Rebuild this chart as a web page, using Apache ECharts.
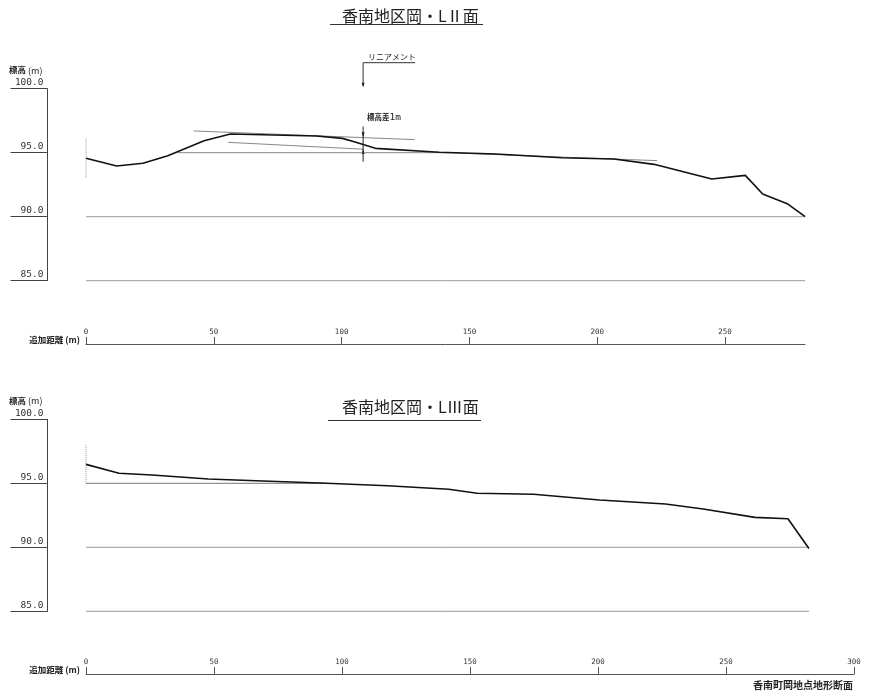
<!DOCTYPE html>
<html><head><meta charset="utf-8">
<script src="https://cdn.jsdelivr.net/npm/echarts@6/dist/echarts.min.js"></script>
<style>html,body{margin:0;padding:0;background:#fff}#c{width:870px;height:696px}</style>
</head><body><div id="c"></div>
<script>
// ---- texts ----
const titleL2 = '香南地区岡・LⅡ面';
const titleL3 = '香南地区岡・LⅢ面';
const caption = '香南町岡地点地形断面';
const yName = '{b|標高} (m)';
const xName = '追加距離 (m)';
const lineamentText = 'リニアメント';
const stepText = '{a|標高差}{b|1m}';

// ---- ticks ----
const yTicks = [85, 90, 95, 100];
const xTicksL2 = [0, 50, 100, 150, 200, 250];
const xTicksL3 = [0, 50, 100, 150, 200, 250, 300];
const xMaxL2 = 281.25;
const xMaxL3 = 300;

// ---- L II profile (distance m, elevation m) ----
const profileL2 = [[0,94.56],[12.0,93.96],[22.3,94.17],[32.0,94.77],[46.2,95.94],[56.5,96.46],[90.2,96.30],[100.3,96.12],[104.9,95.86],[113.2,95.34],[138.2,95.03],[160.3,94.90],[186.2,94.61],[206.5,94.51],[222.2,94.09],[244.8,92.95],[257.9,93.23],[264.7,91.77],[274.3,91.02],[281.3,90.0]];
const upperSurfaceL2 = [[42.1,96.70],[128.6,96.02]];
const lowerSurfaceL2 = [[55.6,95.81],[108.6,95.27]];
const terraceL2 = [[36,95.0],[142,95.0],[193,94.6],[223.4,94.38]];
const level90L2 = [[0,90],[281.25,90]];
const level85L2 = [[0,85],[281.25,85]];
const datumL2 = [[0,96.13],[0,93.0]];
const lineamentX = 108.4;
const stepMarker = [[108.4,97.05],[108.4,94.3]];
const stepArrows = [96.2, 95.28];

// ---- L III profile ----
const profileL3 = [[0,96.48],[12.9,95.78],[25.8,95.65],[47.8,95.34],[71.8,95.16],[93.9,95.0],[117.8,94.81],[141.7,94.53],[152.8,94.22],[174.8,94.14],[200.6,93.70],[226.4,93.38],[241.1,92.99],[261.3,92.34],[274.2,92.23],[282.4,89.9]];
const level95L3 = [[0,95],[94,95]];
const level90L3 = [[0,90],[282.4,90]];
const level85L3 = [[0,85],[282.4,85]];
const datumL3 = [[0,98.0],[0,95.0]];

const chart = echarts.init(document.getElementById('c'), null, {renderer:'canvas'});
const axisColor = '#444';
const monoFont = 'DejaVu Sans Mono';
const cjkFont = 'Noto Sans CJK JP';

function yAxisCfg(gi) {
  return {
    gridIndex: gi, type: 'value', min: 85, max: 100, interval: 5,
    position: 'left', offset: 38.5,
    axisLine: {show: true, onZero: false, lineStyle: {color: axisColor, width: 1}},
    axisTick: {show: true, length: 37, lineStyle: {color: axisColor, width: 1}},
    axisLabel: {margin: 4, verticalAlign: 'bottom', formatter: v => v.toFixed(1),
      fontFamily: monoFont, fontSize: 9.5, color: '#333', lineHeight: 12},
    splitLine: {show: false},
    name: yName, nameLocation: 'end', nameGap: 14,
    nameTextStyle: {align: 'right', padding: [0, 5, 0, 0], fontSize: 9, color: '#222',
      fontFamily: cjkFont, rich: {b: {fontWeight: 'bold', fontSize: 8.5, fontFamily: cjkFont, color: '#222'}}}
  };
}
function xAxisCfg(gi, max, ticks) {
  return {
    gridIndex: gi, type: 'value', min: 0, max: max, position: 'top', interval: 50,
    axisLine: {show: true, onZero: false, lineStyle: {color: '#555', width: 1}},
    axisTick: {show: true, customValues: ticks, length: 7, lineStyle: {color: '#555', width: 1}},
    axisLabel: {customValues: ticks, margin: 8, fontFamily: monoFont, fontSize: 7.5, color: '#333',
      formatter: v => (v % 50 === 0 ? String(v) : '')},
    splitLine: {show: false},
    name: xName, nameLocation: 'start', nameGap: 6,
    nameTextStyle: {fontFamily: cjkFont, fontSize: 8.5, color: '#222', verticalAlign: 'bottom', fontWeight: 'bold'}
  };
}
function lineSeries(xi, yi, data, color, width, type) {
  return {type: 'line', xAxisIndex: xi, yAxisIndex: yi, data: data, symbol: 'none', showSymbol: false,
    silent: true, clip: false, animation: false,
    lineStyle: {color: color, width: width, type: type || 'solid'}};
}

const option = {
  backgroundColor: '#fff',
  animation: false,
  title: [
    {text: titleL2, left: 337, top: 3, textStyle: {fontFamily: cjkFont, fontSize: 16, fontWeight: 'normal', color: '#222'}},
    {text: titleL3, left: 337, top: 394, textStyle: {fontFamily: cjkFont, fontSize: 16, fontWeight: 'normal', color: '#222'}},
    {text: caption, right: 12, top: 675, textStyle: {fontFamily: cjkFont, fontSize: 10, fontWeight: 'bold', color: '#222'}}
  ],
  grid: [
    {left: 86, top: 88.7, width: 719, height: 192},
    {left: 86, top: 344, width: 719, height: 1},
    {left: 86, top: 419.3, width: 768, height: 192},
    {left: 86, top: 674, width: 768, height: 1}
  ],
  xAxis: [
    {gridIndex: 0, type: 'value', min: 0, max: xMaxL2, show: false},
    xAxisCfg(1, xMaxL2, xTicksL2),
    {gridIndex: 2, type: 'value', min: 0, max: xMaxL3, show: false},
    xAxisCfg(3, xMaxL3, xTicksL3)
  ],
  yAxis: [
    yAxisCfg(0),
    {gridIndex: 1, type: 'value', min: 0, max: 1, show: false},
    yAxisCfg(2),
    {gridIndex: 3, type: 'value', min: 0, max: 1, show: false}
  ],
  series: [
    lineSeries(0, 0, level90L2, '#999', 1),
    lineSeries(0, 0, level85L2, '#999', 1),
    lineSeries(0, 0, terraceL2, '#888', 1),
    lineSeries(0, 0, upperSurfaceL2, '#888', 1),
    lineSeries(0, 0, lowerSurfaceL2, '#888', 1),
    lineSeries(0, 0, datumL2, '#999', 1, 'dotted'),
    lineSeries(0, 0, stepMarker, '#222', 1),
    lineSeries(0, 0, profileL2, '#111', 1.6),
    lineSeries(2, 2, level95L3, '#777', 1),
    lineSeries(2, 2, level90L3, '#999', 1),
    lineSeries(2, 2, level85L3, '#999', 1),
    lineSeries(2, 2, datumL3, '#999', 1, 'dotted'),
    lineSeries(2, 2, profileL3, '#111', 1.6)
  ]
};
chart.setOption(option);

// annotations positioned from data coordinates
const pTop = chart.convertToPixel({gridIndex: 0}, [lineamentX, 100]);
const pStepTop = chart.convertToPixel({gridIndex: 0}, stepMarker[0]);
const pA1 = chart.convertToPixel({gridIndex: 0}, [lineamentX, stepArrows[0]]);
const pA2 = chart.convertToPixel({gridIndex: 0}, [lineamentX, stepArrows[1]]);
const lx = pTop[0], ly = pTop[1];
chart.setOption({
  graphic: [
    {type: 'line', shape: {x1: 330, y1: 24.5, x2: 483, y2: 24.5}, style: {stroke: '#333', lineWidth: 1}, silent: true},
    {type: 'line', shape: {x1: 328, y1: 420.5, x2: 481, y2: 420.5}, style: {stroke: '#333', lineWidth: 1}, silent: true},
    {type: 'line', shape: {x1: lx, y1: ly - 26, x2: lx + 52, y2: ly - 26}, style: {stroke: '#333', lineWidth: 1}, silent: true},
    {type: 'line', shape: {x1: lx, y1: ly - 26, x2: lx, y2: ly - 3}, style: {stroke: '#333', lineWidth: 1}, silent: true},
    {type: 'polygon', shape: {points: [[lx - 1.5, ly - 6], [lx + 1.5, ly - 6], [lx, ly - 1.5]]}, style: {fill: '#222'}, silent: true},
    {type: 'text', x: lx + 5, y: ly - 28, style: {text: lineamentText, font: '8px "Noto Sans CJK JP"', fill: '#222', verticalAlign: 'bottom'}, silent: true},
    {type: 'polygon', shape: {points: [[pA1[0] - 1.5, pA1[1] - 5], [pA1[0] + 1.5, pA1[1] - 5], [pA1[0], pA1[1]]]}, style: {fill: '#222'}, silent: true},
    {type: 'polygon', shape: {points: [[pA2[0] - 1.5, pA2[1] + 5], [pA2[0] + 1.5, pA2[1] + 5], [pA2[0], pA2[1]]]}, style: {fill: '#222'}, silent: true},
    {type: 'text', x: pStepTop[0] + 4, y: pStepTop[1] - 4, style: {text: stepText, fill: '#222', verticalAlign: 'bottom',
      rich: {a: {fontFamily: cjkFont, fontSize: 7.5, fontWeight: 'bold', fill: '#222'}, b: {fontFamily: monoFont, fontSize: 9.5, fill: '#222'}}}, silent: true}
  ]
});
</script></body></html>
